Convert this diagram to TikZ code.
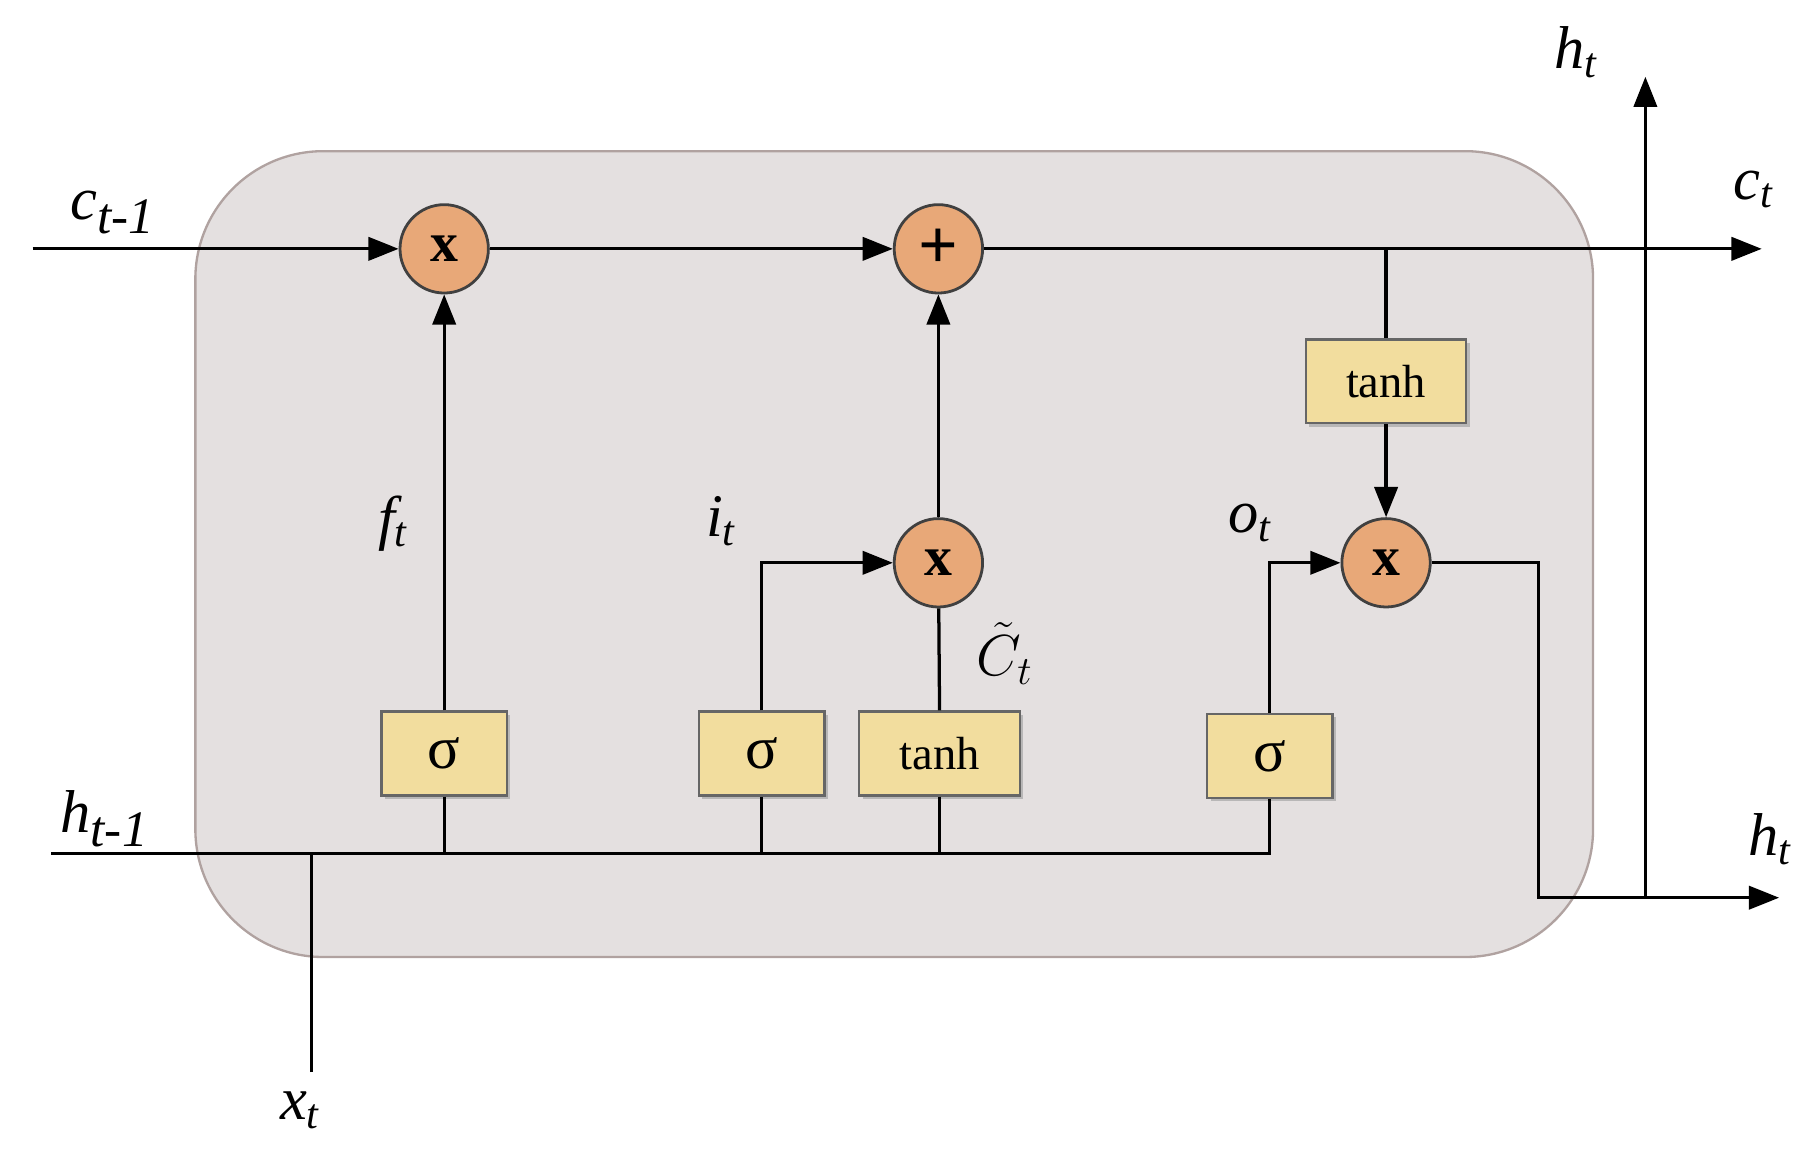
\documentclass[tikz,border=0pt]{standalone}
\usepackage{fontspec}
\setmainfont{Liberation Serif}
\usetikzlibrary{arrows.meta,shadows}
\definecolor{cellbg}{HTML}{E4E0E0}
\definecolor{cellbd}{HTML}{B0A2A0}
\definecolor{circ}{HTML}{E8A878}
\definecolor{gate}{HTML}{F2DD9E}
\begin{document}
\begin{tikzpicture}[x=0.5pt,y=-0.5pt,
  line width=1.4pt,
  arr/.style={-{Triangle[length=13pt,width=10pt]}},
  op/.style={circle,draw=black!75,fill=circ,line width=1.2pt,minimum size=38pt,inner sep=0pt,font=\bfseries\fontsize{24}{24}\selectfont},
  gt/.style={draw=black!60,fill=gate,line width=1pt,minimum height=36pt,inner sep=0pt,font=\fontsize{20}{20}\selectfont,drop shadow={shadow xshift=1.5pt,shadow yshift=-1.5pt,fill=black!35,opacity=0.7}},
  lab/.style={font=\itshape\fontsize{26}{26}\selectfont}]
\useasboundingbox (0,0) rectangle (1560,995);
\node[draw=cellbd,fill=cellbg,line width=1pt,rounded corners=55pt,minimum width=601pt,minimum height=346.5pt] (cell) at (769,476.5) {};
\node[op] (m1) at (382,214) {x};
\node[op,font=\bfseries\fontsize{30}{30}\selectfont] (pl) at (807,214) {+};
\node[op] (m2) at (807,484) {x};
\node[op] (m3) at (1192,484) {x};
\node[gt,minimum width=69pt] (th2) at (1192,328) {tanh};
\node[gt,minimum width=54pt,font=\fontsize{26}{26}\selectfont] (s1) at (382,648) {σ};
\node[gt,minimum width=54pt,font=\fontsize{26}{26}\selectfont] (s2) at (655,648) {σ};
\node[gt,minimum width=69pt] (th1) at (808,648) {tanh};
\node[gt,minimum width=54pt,font=\fontsize{26}{26}\selectfont] (s3) at (1092,650) {σ};
\coordinate (cin) at (28,214);
\coordinate (cout) at (1515,214);
\coordinate (hin) at (44,734);
\coordinate (hjoin) at (1092,734);
\coordinate (xin) at (268,922);
\coordinate (xj) at (268,734);
\coordinate (tj) at (1192,214);
\coordinate (o1) at (1323,484);
\coordinate (o2) at (1323,772);
\coordinate (hout) at (1530,772);
\coordinate (hb) at (1415,772);
\coordinate (hup) at (1415,66);
\draw[arr] (cin) -- (m1);
\draw[arr] (m1) -- (pl);
\draw[arr] (pl) -- (cout);
\draw (tj) -- (th2);
\draw[arr] (th2) -- (m3);
\draw[arr] (s1) -- (m1);
\draw[arr] (m2) -- (pl);
\draw[arr] (s2.north) |- (m2);
\draw (th1.north) -- (m2);
\draw[arr] (s3.north) |- (m3);
\draw (hin) -- (hjoin) -- (s3.south);
\draw (xin) -- (xj);
\draw (s1.south) -- (s1.south |- hin);
\draw (s2.south) -- (s2.south |- hin);
\draw (th1.south) -- (th1.south |- hin);
\draw[arr] (m3) -- (o1) -- (o2) -- (hout);
\draw[arr] (hb) -- (hup);
\node[lab] at (97,183) {c\textsubscript{\fontsize{22}{22}\selectfont t-1}};
\node[lab] at (1508,163) {c\textsubscript{t}};
\node[lab] at (90,704) {h\textsubscript{\fontsize{22}{22}\selectfont t-1}};
\node[lab] at (1522,722) {h\textsubscript{t}};
\node[lab] at (1355,45) {h\textsubscript{t}};
\node[lab] at (258,955) {x\textsubscript{t}};
\node[lab] at (338,450) {f\textsubscript{t}};
\node[lab] at (620,448) {i\textsubscript{t}};
\node[lab] at (1075,450) {o\textsubscript{t}};
\node[font=\fontsize{24}{24}\selectfont,inner sep=0pt] at (864,562) {$\tilde{C}_t$};
\end{tikzpicture}
\end{document}
